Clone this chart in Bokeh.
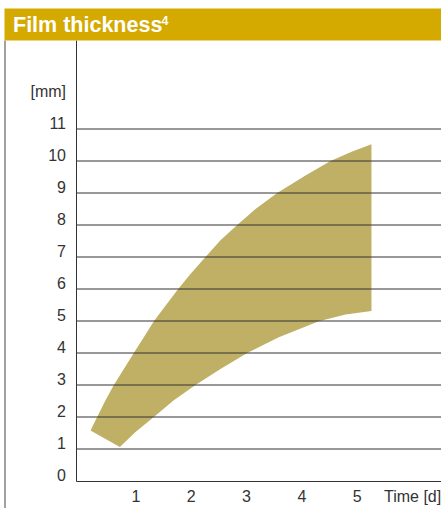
from bokeh.plotting import figure
from bokeh.models import FixedTicker, Label, BoxAnnotation
from bokeh.embed import file_html
from bokeh.resources import INLINE

# ---- data ----
title_text = "Film thickness"
title_sup = "4"
y_ticks = [0, 1, 2, 3, 4, 5, 6, 7, 8, 9, 10, 11]
y_unit = "[mm]"
x_ticks = [1, 2, 3, 4, 5]
x_unit = "Time [d]"
upper_x = [0.181, 0.301, 0.452, 0.602, 0.783, 0.963, 1.144, 1.325, 1.566, 1.765,
           1.987, 2.258, 2.529, 2.831, 3.162, 3.553, 4.065, 4.517, 4.909, 5.257]
upper_y = [1.58, 2.00, 2.52, 3.00, 3.50, 4.00, 4.49, 4.99, 5.55, 6.00,
           6.47, 7.00, 7.52, 8.00, 8.50, 9.00, 9.55, 10.00, 10.30, 10.52]
lower_x = [0.711, 0.994, 1.325, 1.686, 2.078, 2.529, 3.011, 3.583, 4.306, 4.788, 5.257]
lower_y = [1.06, 1.53, 2.00, 2.52, 3.00, 3.50, 4.00, 4.49, 4.99, 5.20, 5.31]

# ---- layout (page pixels) ----
W, H = 441, 508
X0_PX, X_SCALE = 80.0, 55.35      # page x of t=0, px per day
Y0_PX, Y_SCALE = 480.5, 32.0      # page y of 0 mm, px per mm
BAR_LEFT_PX, BAR_TOP_PX, BAR_BOTTOM_PX = 4, 8, 40
AXIS_PX = 75.5
BORDER_PX = 4.5
LABEL_LIFT = 0.171875             # y labels sit ~5.5px above their gridline

def dx(px):
    return (px - X0_PX) / X_SCALE

def dy(py):
    return (Y0_PX - py) / Y_SCALE

x_start, x_end = dx(0), dx(W)
y_end, y_start = dy(0), dy(H)
bar_bottom = dy(BAR_BOTTOM_PX)
axis_x = dx(AXIS_PX)

p = figure(width=W, height=H, output_backend="svg", toolbar_location=None,
           x_range=(x_start, x_end), y_range=(y_start, y_end),
           min_border=0, min_border_left=0, min_border_right=0,
           min_border_top=0, min_border_bottom=0)
p.title.visible = False
p.outline_line_color = None
p.background_fill_color = "white"
p.border_fill_color = "white"
p.xgrid.visible = False
p.ygrid.visible = False

FONT = "Liberation Sans"
LABEL_COLOR = "#333333"
LINE_COLOR = "#333333"

# band
band_x = upper_x + lower_x[::-1]
band_y = upper_y + lower_y[::-1]
p.patch(band_x, band_y, fill_color="#BFB065", line_color=None)

# gridlines (from tick list, excluding 0 which is the axis)
grid_vals = [v for v in y_ticks if v > 0]
p.segment(x0=[axis_x] * len(grid_vals), y0=grid_vals,
          x1=[x_end] * len(grid_vals), y1=grid_vals,
          line_color=LINE_COLOR, line_width=1)

# left border line
p.segment(x0=[dx(BORDER_PX)], y0=[y_start], x1=[dx(BORDER_PX)], y1=[bar_bottom],
          line_color="#444444", line_width=1)

# y axis (labels lifted slightly above the gridlines, as in the original)
label_pos = [v + LABEL_LIFT for v in y_ticks] + [12 + LABEL_LIFT]
label_txt = [str(v) for v in y_ticks] + [y_unit]
ya = p.yaxis[0]
ya.fixed_location = axis_x
ya.bounds = (0, bar_bottom)
ya.ticker = FixedTicker(ticks=label_pos)
ya.major_label_overrides = {pos: txt for pos, txt in zip(label_pos, label_txt)}
ya.major_tick_in = 0
ya.major_tick_out = 0
ya.minor_tick_in = 0
ya.minor_tick_out = 0
ya.major_label_standoff = 10
ya.major_label_text_font = FONT
ya.major_label_text_font_size = "16px"
ya.major_label_text_color = LABEL_COLOR
ya.axis_line_color = LINE_COLOR

# x axis
xa = p.xaxis[0]
xa.fixed_location = 0
xa.bounds = (axis_x, x_end)
xa.ticker = FixedTicker(ticks=x_ticks + [6])
xa.major_label_overrides = {6: x_unit}
xa.major_tick_in = 0
xa.major_tick_out = 0
xa.minor_tick_in = 0
xa.minor_tick_out = 0
xa.major_label_standoff = 7
xa.major_label_text_font = FONT
xa.major_label_text_font_size = "16px"
xa.major_label_text_color = LABEL_COLOR
xa.axis_line_color = LINE_COLOR

# title bar
bar = BoxAnnotation(left=dx(BAR_LEFT_PX), bottom=bar_bottom, top=dy(BAR_TOP_PX),
                    fill_color="#D4AA00", fill_alpha=1.0,
                    line_color=None, level="overlay")
p.add_layout(bar)
title = Label(x=dx(12.5), y=dy(24), text=title_text, text_font=FONT,
              text_font_size="21.5px", text_font_style="bold", text_color="white",
              text_baseline="middle", text_align="left", level="overlay")
p.add_layout(title)
sup = Label(x=dx(161), y=dy(19.5), text=title_sup, text_font=FONT,
            text_font_size="12.5px", text_font_style="bold", text_color="white",
            text_baseline="middle", text_align="left", level="overlay")
p.add_layout(sup)

open("out.html", "w").write(file_html(p, INLINE))
